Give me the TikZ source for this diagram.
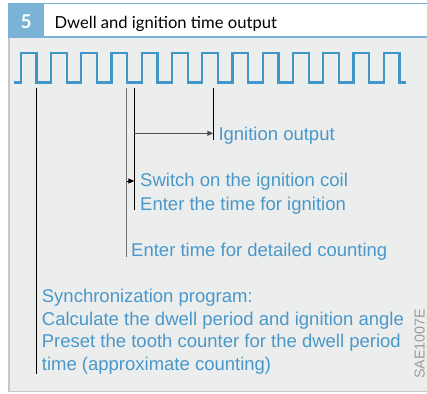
\documentclass[tikz,border=0pt]{standalone}
\usepackage{fontspec}
\setmainfont{Liberation Sans}
\newfontfamily\titlefont{Lato}
\usetikzlibrary{arrows.meta}
\definecolor{hdrblue}{HTML}{7AB3D5}
\definecolor{bodygrey}{HTML}{ECEDED}
\definecolor{edgegrey}{HTML}{C6C7C7}
\definecolor{wave}{HTML}{4096C8}
\definecolor{txtblue}{HTML}{4A98CA}
\definecolor{codegrey}{HTML}{9A9A9A}
\definecolor{lineB}{HTML}{6E6E6E}
\definecolor{arrowgrey}{HTML}{505050}
\begin{document}
\begin{tikzpicture}[x=1pt,y=-1pt,
  wavestyle/.style={wave, line width=2.4pt, line join=miter},
  marker/.style={black, line width=0.9pt},
  label/.style={anchor=base west, inner sep=0pt, text=txtblue, font=\fontsize{18.5}{22}\selectfont},
  tip/.style={-{Triangle[length=6pt,width=5pt]}}]
\useasboundingbox (0,0) rectangle (427,393);
\fill[white] (0,0) rectangle (427,393);
% frame
\fill[bodygrey] (8,38) rectangle (427,391);
\fill[edgegrey] (8,38) rectangle (9.5,392);
\fill[edgegrey] (8,390.5) rectangle (427,392);
\fill[hdrblue] (8,2.7) rectangle (427,4.3);
\fill[hdrblue] (8,36.5) rectangle (427,38.5);
\fill[hdrblue] (8,2.7) rectangle (44.3,38.5);
\node[anchor=base, inner sep=0pt, text=white, font=\titlefont\bfseries\fontsize{19}{20}\selectfont] (num) at (26.2,28.3) {5};
\node[anchor=base west, inner sep=0pt, font=\titlefont\fontsize{16.6}{20}\selectfont] (title) at (54.3,28.3) {Dwell and ignition time output};
% square wave
\draw[wavestyle] (14,82.7)
  \foreach \k in {0,...,12} {
    -- ({20.7+30.25*\k},82.7) -- ({20.7+30.25*\k},53.3)
    -- ({36.5+30.25*\k},53.3) -- ({36.5+30.25*\k},82.7) }
  -- (406,82.7);
% markers
\coordinate (a1) at (36,87.5);   \coordinate (a2) at (36,374);
\coordinate (b1) at (126.8,87.5); \coordinate (b2) at (126.8,257);
\coordinate (c1) at (134.3,87.5); \coordinate (c2) at (134.3,209.5);
\coordinate (d1) at (213.3,87.5); \coordinate (d2) at (213.3,140);
\draw[marker] (a1) -- (a2);
\draw[lineB, line width=1.2pt] (b1) -- (b2);
\draw[marker] (c1) -- (c2);
\draw[marker] (d1) -- (d2);
\coordinate (h1) at (134.3,133.3); \coordinate (h2) at (213.3,133.3);
\draw[arrowgrey, line width=1.1pt, tip] (h1) -- (h2);
\coordinate (s1) at (126.8,181); \coordinate (s2) at (134.3,181);
\draw[black, line width=0.9pt, tip] (s1) -- (s2);
% labels
\node[label] (ign) at (218.3,140) {Ignition output};
\node[label] (sw) at (140,186.7) {Switch on the ignition coil};
\node[label] (et) at (140,210) {Enter the time for ignition};
\node[label] (ed) at (131,256) {Enter time for detailed counting};
\node[label] (p1) at (41.7,302.7) {Synchronization program:};
\node[label] (p2) at (41.7,325.3) {Calculate the dwell period and ignition angle};
\node[label] (p3) at (41.7,347.7) {Preset the tooth counter for the dwell period};
\node[label] (p4) at (41.7,370.3) {time (approximate counting)};
\node[anchor=base, inner sep=0pt, rotate=90, text=codegrey, font=\fontsize{14.3}{16}\selectfont] (code) at (424.6,344) {SAE1007E};
\end{tikzpicture}
\end{document}
